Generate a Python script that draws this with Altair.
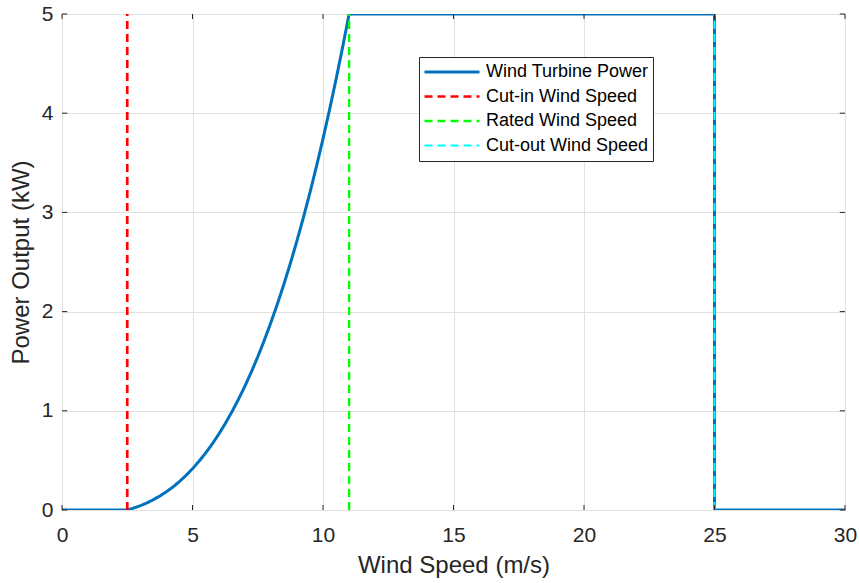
import altair as alt
import pandas as pd

# Wind turbine power curve (kW) against wind speed (m/s)
wind_speed = [0, 2.5, 2.75, 3, 3.25, 3.5, 3.75, 4, 4.25, 4.5, 4.75, 5, 5.25, 5.5, 5.75,
              6, 6.25, 6.5, 6.75, 7, 7.25, 7.5, 7.75, 8, 8.25, 8.5, 8.75, 9, 9.25,
              9.5, 9.75, 10, 10.25, 10.5, 10.75, 11, 25, 25, 30]
power_kw = [0, 0, 0.020, 0.043, 0.071, 0.104, 0.141, 0.184, 0.232, 0.287, 0.348, 0.416,
            0.491, 0.573, 0.663, 0.762, 0.869, 0.985, 1.110, 1.244, 1.389, 1.544, 1.710,
            1.887, 2.075, 2.275, 2.487, 2.712, 2.949, 3.200, 3.464, 3.742, 4.034, 4.341,
            4.663, 5.0, 5.0, 0, 0]

# Characteristic speeds
marker_names = ["Cut-in Wind Speed", "Rated Wind Speed", "Cut-out Wind Speed"]
marker_speeds = [2.5, 11, 25]

series = ["Wind Turbine Power"] + marker_names
colors = ["#0072BD", "#FF0000", "#00FF00", "#00FFFF"]
dashes = [[1, 0], [8, 5], [8, 5], [8, 5]]
widths = [3, 2, 2, 2]

x_ticks = [0, 5, 10, 15, 20, 25, 30]
y_ticks = [0, 1, 2, 3, 4, 5]

FONT = "Liberation Sans"
INK = "#262626"

curve = pd.DataFrame({
    "speed": wind_speed,
    "power": power_kw,
    "idx": list(range(len(wind_speed))),
    "series": "Wind Turbine Power",
})
markers = pd.DataFrame({
    "speed": marker_speeds,
    "lo": [0] * 3,
    "hi": [5] * 3,
    "series": marker_names,
})

x_scale = alt.Scale(domain=[0, 30], nice=False, zero=False)
y_scale = alt.Scale(domain=[0, 5], nice=False, zero=False)

color = alt.Color(
    "series:N",
    scale=alt.Scale(domain=series, range=colors),
    legend=alt.Legend(
        orient="none", legendX=357, legendY=43, title=None,
        symbolType="stroke", symbolSize=3025, clipHeight=22,
        labelFont=FONT, labelFontSize=18, labelColor="black", labelOffset=5,
        labelLimit=300,
        strokeColor=INK, fillColor="white", padding=4, rowPadding=2.5,
    ),
)
dash = alt.StrokeDash("series:N", scale=alt.Scale(domain=series, range=dashes), legend=None)
width = alt.StrokeWidth("series:N", scale=alt.Scale(domain=series, range=widths), legend=None)

x_axis = alt.Axis(values=x_ticks, format="d", title="Wind Speed (m/s)", ticks=False,
                  labelFlush=False, labelPadding=14, titlePadding=8, grid=True)
y_axis = alt.Axis(values=y_ticks, format="d", title="Power Output (kW)", ticks=False,
                  labelFlush=False, labelPadding=9, titlePadding=8, grid=True)

line = alt.Chart(curve).mark_line(clip=True).encode(
    x=alt.X("speed:Q", scale=x_scale, axis=x_axis),
    y=alt.Y("power:Q", scale=y_scale, axis=y_axis),
    order="idx:Q",
    color=color, strokeDash=dash, strokeWidth=width,
)

rules = alt.Chart(markers).mark_rule().encode(
    x=alt.X("speed:Q", scale=x_scale),
    y=alt.Y("lo:Q", scale=y_scale),
    y2="hi:Q",
    color=color, strokeDash=dash, strokeWidth=width,
)

# Inward tick marks on all four sides of the box
xt = pd.DataFrame({"t": x_ticks * 2,
                   "a": [0] * 7 + [5] * 7,
                   "b": [0.05] * 7 + [4.95] * 7})
yt = pd.DataFrame({"t": y_ticks * 2,
                   "a": [0] * 6 + [30] * 6,
                   "b": [0.2] * 6 + [29.8] * 6})
xticks = alt.Chart(xt).mark_rule(color=INK, strokeWidth=1).encode(
    x=alt.X("t:Q", scale=x_scale), y=alt.Y("a:Q", scale=y_scale), y2="b:Q")
yticks = alt.Chart(yt).mark_rule(color=INK, strokeWidth=1).encode(
    y=alt.Y("t:Q", scale=y_scale), x=alt.X("a:Q", scale=x_scale), x2="b:Q")

chart = alt.layer(line, rules, xticks, yticks).properties(
    width=783, height=496,
    autosize=alt.AutoSizeParams(type="none"),
    padding={"left": 62, "top": 14, "right": 14, "bottom": 73},
    background="white",
).configure_view(
    stroke=INK, strokeWidth=1,
).configure_axis(
    domain=False,
    gridColor="#e1e1e1", gridWidth=1,
    labelFont=FONT, labelFontSize=21, labelColor=INK,
    titleFont=FONT, titleFontSize=24, titleColor=INK, titleFontWeight="normal",
)

chart.save("out.html", embed_options={"renderer": "svg", "actions": False})
